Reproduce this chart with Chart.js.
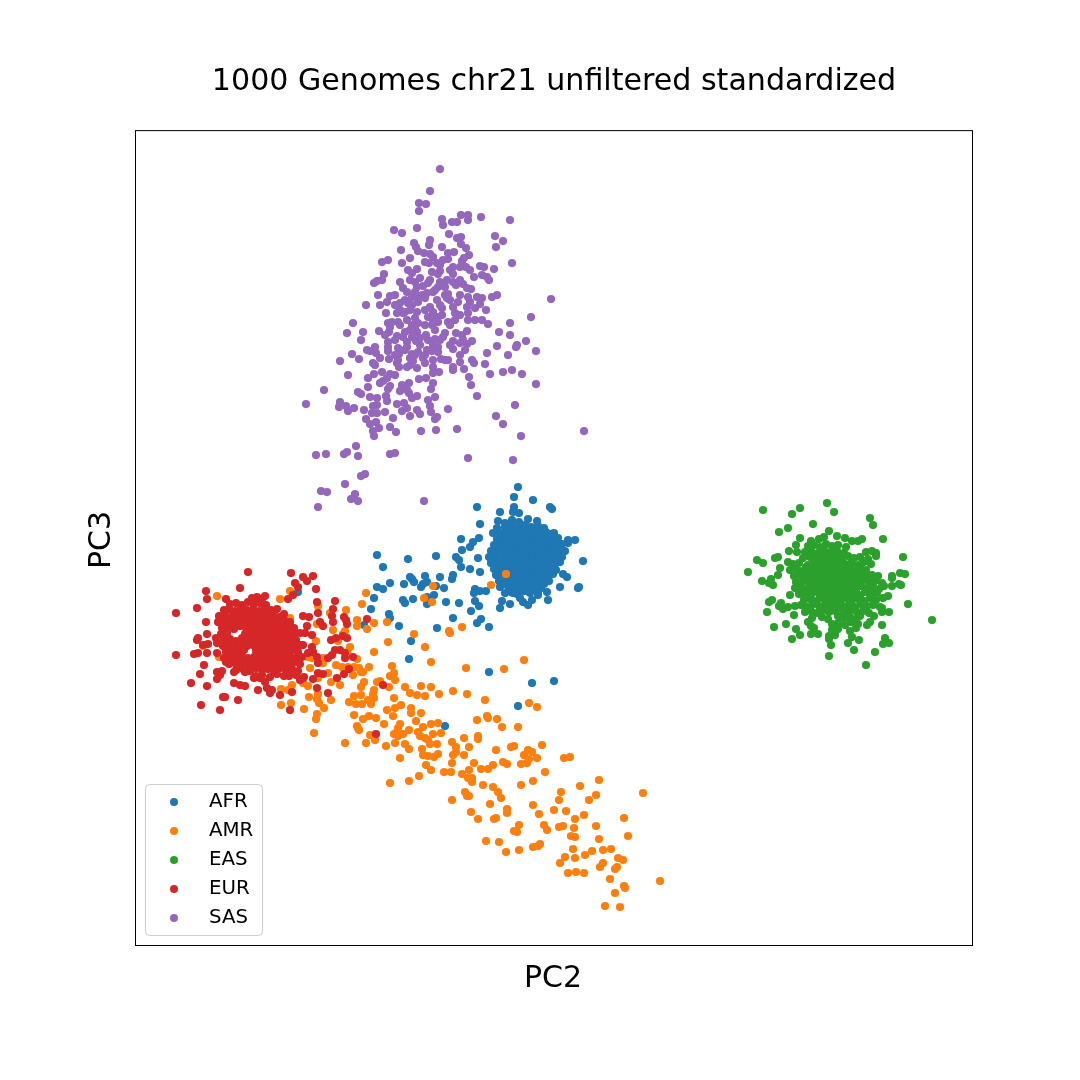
<!DOCTYPE html>
<html><head><meta charset="utf-8">
<script src="https://cdn.jsdelivr.net/npm/chart.js@4"></script>
<style>html,body{margin:0;padding:0;background:#fff}canvas{display:block}</style>
</head><body><canvas id="c" width="1080" height="1080"></canvas>
<script>
const titleText="1000 Genomes chr21 unfiltered standardized";
const xLabel="PC2", yLabel="PC3";
const seriesNames=["AFR","AMR","EAS","EUR","SAS"];
const seriesColors=["#1f77b4","#ff7f0e","#2ca02c","#d62728","#9467bd"];
const xRange=[136,972], yRange=[130,945];
// flat x,y value lists
const AFR=[518,487,514,497,533,500,477,507,550,507,552,509,500,512,514,507,513,512,519,513,498,521,480,524,493,533,497,528,505,523,554,533,479,538,461,539,473,542,470,547,462,550,575,540,568,540,568,543,377,555,408,559,436,556,456,557,459,560,478,558,583,561,383,567,461,567,470,569,480,572,440,577,453,575,452,579,425,576,410,577,412,579,414,582,427,582,423,584,421,587,404,584,390,583,377,587,383,589,436,586,444,588,434,595,427,597,374,598,403,600,405,603,413,599,427,604,446,602,459,603,475,589,474,593,480,591,486,591,475,601,479,606,471,611,371,609,389,614,390,618,364,625,399,626,453,618,437,628,481,619,477,623,489,627,411,641,409,659,489,672,532,683,554,681,518,706,445,726,298,592,560,587,578,588,579,587,547,592,548,600,538,595,528,605,532,600,520,598,523,602,510,604,500,608,502,601,513,593,563,574,567,577,
512,520,519,522,528,519,537,521,505,527,512,526,518,528,525,525,531,527,538,526,544,528,500,533,507,532,513,534,520,531,527,533,533,532,540,534,546,532,551,534,497,539,503,538,510,540,516,537,523,539,529,538,535,540,542,537,548,539,554,540,558,538,494,545,500,544,507,546,513,543,519,545,526,544,532,546,538,543,545,545,551,544,557,546,562,544,491,551,497,550,504,552,510,549,516,551,523,550,529,552,535,549,542,551,548,550,554,552,560,550,565,551,489,557,496,556,502,558,508,555,515,557,521,556,527,558,533,555,540,557,546,556,552,558,558,556,562,557,491,563,498,562,505,564,511,561,517,563,524,562,530,564,536,561,543,563,549,562,555,564,560,562,494,569,500,568,507,570,513,567,520,569,526,568,533,570,539,567,545,569,551,568,556,570,496,575,503,574,510,576,516,573,522,575,529,574,535,576,541,573,548,575,553,574,499,581,506,580,512,582,518,579,525,581,531,580,538,582,544,579,549,581,500,587,508,586,515,588,521,585,528,587,534,586,541,588,505,593,511,592,517,594,524,591,530,593,538,592,
510,530,516,530,523,530,530,530,536,530,543,530,507,536,513,536,520,536,526,536,532,536,539,536,545,536,551,536,500,542,506,542,513,542,519,542,526,542,532,542,539,542,545,542,551,542,557,542,497,548,503,548,510,548,516,548,522,548,529,548,535,548,541,548,548,548,554,548,560,548,494,554,500,554,507,554,513,554,519,554,526,554,532,554,538,554,545,554,551,554,557,554,494,560,501,560,508,560,514,560,520,560,527,560,533,560,539,560,546,560,552,560,557,560,497,566,503,566,510,566,516,566,523,566,529,566,535,566,542,566,548,566,554,566,500,572,506,572,513,572,519,572,525,572,532,572,538,572,544,572,550,572,502,578,509,578,515,578,521,578,528,578,534,578,541,578,547,578,505,584,512,584,518,584,525,584,531,584,537,584,544,584,510,590,516,590,522,590,528,590,535,590];
const AMR=[506,574,491,585,433,586,424,598,432,602,366,593,362,604,374,623,367,629,387,622,414,634,449,631,450,633,462,627,388,642,425,647,374,652,431,662,524,660,466,668,504,669,392,666,369,667,363,672,217,596,280,599,290,591,346,610,318,606,330,613,357,620,357,626,290,618,317,624,333,630,345,631,343,634,316,641,338,641,350,647,347,652,203,646,219,657,357,659,323,658,312,658,308,657,323,663,336,665,342,667,348,667,354,667,359,668,361,672,328,673,310,668,353,675,318,678,380,681,377,682,364,682,361,687,331,682,340,685,308,686,303,683,292,685,281,689,288,690,374,690,373,694,361,695,354,696,309,697,318,694,331,700,349,702,356,704,362,704,368,700,371,704,374,698,317,699,319,703,281,705,291,703,304,709,324,708,317,714,316,719,354,715,369,716,363,719,376,718,394,673,390,676,395,680,405,687,421,686,431,687,389,687,410,693,417,695,425,696,439,694,453,691,467,694,394,698,485,700,529,703,537,707,401,705,395,708,387,710,411,708,411,713,421,713,393,716,416,721,487,716,488,718,477,720,497,719,502,727,518,727,384,724,357,726,359,730,358,728,400,724,431,724,438,723,423,727,314,733,398,728,409,730,418,732,397,732,394,734,403,734,398,736,370,735,420,736,433,734,441,733,478,736,478,739,464,738,425,738,428,740,375,740,345,743,366,743,395,743,405,744,452,742,430,744,437,744,386,746,409,749,422,749,456,747,469,747,511,747,514,746,542,745,496,750,528,750,532,752,456,752,453,755,464,755,524,755,423,755,428,756,434,757,438,754,400,758,529,759,537,758,564,758,570,757,452,763,474,763,503,762,507,764,521,764,527,763,426,765,493,765,431,770,481,769,488,769,469,770,444,772,451,772,462,774,545,772,419,776,468,778,472,778,472,782,409,781,390,783,533,781,599,780,483,785,521,785,493,787,580,786,561,792,498,792,465,792,643,793,596,795,467,796,469,796,501,798,559,800,589,800,452,800,490,804,533,805,554,810,566,811,507,809,507,813,471,812,539,814,584,815,478,819,496,818,494,819,575,819,624,818,519,825,544,825,547,830,559,827,563,826,596,826,574,828,514,831,517,832,571,836,575,837,628,836,599,839,486,841,499,842,540,844,533,847,538,846,519,850,506,852,573,849,592,851,603,850,611,849,585,855,565,857,575,858,618,858,623,860,560,863,603,863,600,867,617,867,615,869,568,873,576,872,584,873,610,879,660,881,624,886,625,888,615,893,605,906,620,907];
const EAS=[827,503,763,510,800,508,792,514,834,512,870,518,873,525,788,528,779,532,813,524,829,531,883,539,800,538,796,545,852,541,858,541,862,539,845,538,837,536,824,537,819,539,811,541,903,557,757,560,763,563,775,558,778,557,789,551,797,552,788,562,780,568,748,572,778,575,771,579,762,581,769,583,773,585,900,573,905,574,892,576,892,578,899,584,892,586,901,585,878,576,908,604,932,620,790,595,772,600,769,602,767,612,781,603,779,606,783,609,788,607,794,615,786,624,774,627,796,629,800,635,792,639,808,622,811,626,814,628,818,634,811,634,829,639,831,645,829,656,848,643,854,650,859,640,866,665,875,652,883,644,885,638,889,643,882,625,870,622,867,625,874,616,889,612,882,612,882,608,888,596,883,598,884,586,
808,546,814,545,820,547,826,544,832,546,838,545,846,547,805,552,811,551,818,553,824,550,831,552,837,551,844,553,866,552,872,551,876,553,803,558,810,557,816,559,822,556,828,558,835,557,841,559,848,556,854,558,860,557,868,559,876,556,793,564,799,563,808,565,814,562,820,564,826,563,832,565,838,562,845,564,851,563,858,565,864,562,871,564,790,570,797,569,803,571,810,568,817,570,823,569,829,571,835,568,841,570,848,569,854,571,860,568,866,570,794,576,800,575,806,577,812,574,818,576,824,575,830,577,836,574,842,576,848,575,854,577,860,574,866,576,872,575,796,582,803,581,809,583,815,580,821,582,827,581,833,583,839,580,845,582,851,581,857,583,863,580,869,582,875,581,882,583,795,588,801,587,807,589,813,586,819,588,825,587,831,589,837,586,843,588,849,587,855,589,861,586,867,588,873,587,879,589,799,594,805,593,811,595,817,592,823,594,829,593,835,595,841,592,847,594,853,593,859,595,865,592,871,594,877,593,804,600,810,599,816,601,822,598,828,600,834,599,840,601,846,598,852,600,858,599,864,601,870,598,876,600,795,606,801,605,807,607,813,604,819,606,825,605,831,607,837,604,843,606,849,605,855,607,861,604,867,606,873,605,880,607,805,612,811,611,817,613,823,610,829,612,835,611,845,613,851,610,857,612,863,611,869,613,812,618,822,617,828,619,838,616,844,618,850,617,856,619,860,616,832,624,838,623,845,625,851,622,858,624,832,630,838,629,850,631,856,628,829,636,835,635,852,637,
806,567,812,567,818,567,826,567,835,567,842,567,850,567,810,573,816,573,822,573,828,573,834,573,840,573,846,573,852,573,806,579,812,579,818,579,824,579,830,579,836,579,842,579,848,579,854,579,860,579,812,585,818,585,824,585,830,585,836,585,842,585,848,585,854,585,860,585,814,591,820,591,826,591,832,591,838,591,844,591,850,591,856,591,820,597,826,597,832,597,838,597,844,597,850,597,860,597,814,603,826,603,832,603,838,603,850,603,826,609,832,609,842,609,848,609,814,555,826,555,838,555,820,561,832,561,842,561];
const EUR=[248,572,291,573,303,577,307,581,313,576,295,583,298,587,316,589,240,588,206,591,207,599,226,599,293,595,288,599,317,602,335,601,197,608,176,613,333,609,318,613,332,616,344,617,346,620,367,619,303,616,309,617,206,622,320,622,323,626,333,622,307,626,347,624,207,634,343,636,347,638,336,638,331,640,198,638,197,640,216,638,217,643,208,644,203,645,312,635,305,633,303,645,312,647,340,650,335,650,332,655,328,658,345,653,345,658,353,657,313,652,308,653,317,657,198,653,194,654,207,653,176,655,217,653,318,663,204,665,226,662,200,674,217,672,222,671,220,675,217,679,234,672,245,672,323,674,318,673,344,674,349,669,337,678,289,676,313,679,303,678,300,680,191,683,207,686,234,683,240,685,245,686,258,690,267,688,272,690,270,693,292,692,280,695,317,688,328,693,223,697,225,697,238,700,201,705,220,710,290,710,254,678,260,678,265,682,383,685,376,734,
252,598,257,597,262,599,265,596,230,604,236,603,242,605,248,602,254,604,260,603,266,605,224,610,229,609,235,611,241,608,247,610,253,609,259,611,265,608,271,610,277,609,219,616,225,615,231,617,237,614,243,616,249,615,255,617,261,614,267,616,273,615,279,617,284,614,218,622,224,621,230,623,236,620,242,622,248,621,254,623,260,620,266,622,272,621,278,623,284,620,290,622,222,628,228,627,234,629,240,626,246,628,252,627,258,629,264,626,270,628,276,627,282,629,288,626,294,628,221,634,227,633,245,634,251,633,257,635,263,632,269,634,275,633,281,635,287,632,293,634,300,633,224,640,230,639,236,641,242,638,248,640,254,639,260,641,266,638,272,640,278,639,284,641,290,638,296,640,223,646,229,645,235,647,241,644,247,646,253,645,259,647,265,644,271,646,277,645,283,647,289,644,296,646,301,645,226,652,232,651,238,653,244,650,256,651,262,653,268,650,274,652,280,651,286,653,292,650,298,652,224,658,230,657,236,659,242,656,248,658,254,657,260,659,266,656,272,658,278,657,284,659,290,656,296,658,302,657,229,664,235,663,241,665,247,662,253,664,259,663,265,665,271,662,277,664,283,663,289,665,295,662,300,664,236,670,243,669,250,671,256,668,262,670,268,669,274,671,280,668,286,670,292,669,298,671,256,676,262,675,270,677,277,674,284,676,296,675,304,677,
234,613,240,613,246,613,252,613,258,613,264,613,270,613,228,619,234,619,240,619,246,619,252,619,258,619,264,619,270,619,276,619,282,619,226,625,232,625,238,625,244,625,250,625,256,625,262,625,268,625,274,625,280,625,286,625,249,631,255,631,261,631,267,631,273,631,279,631,285,631,291,631,226,637,246,637,252,637,258,637,264,637,270,637,276,637,282,637,288,637,294,637,228,643,238,643,244,643,250,643,256,643,262,643,268,643,274,643,280,643,286,643,292,643,232,649,238,649,244,649,262,649,268,649,274,649,280,649,286,649,292,649,234,655,240,655,258,655,264,655,270,655,276,655,282,655,288,655,240,661,252,661,258,661,264,661,270,661,276,661,282,661,288,661,250,667,262,667,268,667,274,667,280,667,286,667];
const SAS=[440,169,430,191,419,203,426,204,419,211,442,219,443,225,452,222,457,222,461,215,468,215,468,220,481,217,510,220,394,230,402,233,417,228,449,234,457,238,461,237,495,236,503,241,496,247,461,244,466,248,430,240,429,245,414,243,416,247,418,251,401,250,442,247,454,252,448,253,424,253,430,254,433,257,469,255,464,258,410,258,388,260,382,262,402,263,429,263,437,263,443,260,448,259,462,261,512,263,480,266,484,267,494,269,466,267,460,267,453,267,450,270,440,271,432,272,417,269,408,270,412,273,438,274,453,274,482,275,487,277,474,277,489,280,384,274,382,280,377,281,374,283,400,282,410,280,415,282,447,280,453,282,456,285,463,284,428,283,423,286,403,288,407,292,417,287,445,287,467,288,471,289,438,287,448,294,433,292,427,293,422,295,417,297,412,297,378,295,390,296,387,302,468,297,477,297,482,298,497,295,492,297,551,299,447,298,458,302,437,300,418,302,408,303,400,303,395,305,366,305,380,305,480,304,475,308,486,310,467,307,453,307,442,308,430,307,433,312,417,312,410,310,403,313,397,313,386,313,455,313,460,315,468,313,468,320,437,317,428,317,407,320,398,322,418,323,448,322,482,320,488,324,531,317,510,323,353,323,388,323,390,327,415,328,433,320,438,322,347,333,363,332,379,331,389,332,405,332,417,332,426,335,445,333,456,333,467,331,462,335,499,332,510,335,397,336,403,337,412,337,443,337,435,339,361,340,388,342,407,342,416,341,453,341,463,340,472,341,526,341,517,345,467,344,460,343,375,347,388,347,398,348,407,347,433,345,438,347,453,349,497,346,516,347,367,350,370,351,388,351,427,350,432,351,438,352,487,353,536,351,352,354,376,353,399,354,412,354,418,352,460,355,508,355,359,359,380,358,389,359,398,360,410,358,413,361,423,358,433,360,441,359,448,360,472,360,340,361,373,363,397,363,425,363,460,362,474,363,485,364,399,367,407,367,417,368,433,367,453,367,464,369,453,370,382,372,433,373,439,372,512,370,503,372,490,374,522,374,348,375,374,374,390,374,368,378,387,378,383,381,380,383,419,379,426,378,469,377,433,383,409,383,471,385,536,384,368,387,390,386,388,389,324,390,358,392,361,394,400,391,407,390,409,393,431,389,417,396,386,396,370,397,377,398,387,401,412,398,428,400,435,397,477,396,340,402,306,404,339,407,346,406,348,411,354,408,364,410,373,406,377,405,397,404,404,403,407,408,402,411,430,406,448,409,515,405,417,410,420,414,431,412,372,413,377,413,385,412,410,416,437,417,435,419,366,419,393,418,376,422,496,416,370,424,379,428,390,427,503,424,396,432,373,431,374,436,421,431,436,430,457,429,584,431,521,436,356,446,316,455,326,454,344,454,347,452,358,456,390,454,395,453,468,458,513,460,361,476,365,474,345,484,321,491,327,492,355,494,351,499,358,501,424,501,318,507,
405,300,412,305,425,298,415,318,425,325,435,330,440,305,410,330,400,325,395,340,405,350,420,345,428,340,415,355,440,340,450,325,455,320,425,310,435,290,445,295,415,292,405,312,392,322,442,315,430,280,420,278,440,282,450,300,460,295,470,302,460,280,470,270,395,355,410,365,425,355,445,360,385,335,375,365,395,375,402,385,450,345,465,350,420,338,412,325,432,325,400,310,395,295,475,320,440,265,425,262];
const seriesValues=[AFR,AMR,EAS,EUR,SAS];

function toPoints(flat){const p=[];for(let i=0;i<flat.length;i+=2)p.push({x:flat[i],y:flat[i+1]});return p;}
const labelFont='30px "DejaVu Sans"';

const frameAndLegend={id:"frameAndLegend",afterDraw(chart){
  const c=chart.ctx,a=chart.chartArea;
  c.save();
  c.strokeStyle="#000";c.lineWidth=1;
  c.strokeRect(a.left-0.5,a.top+0.5,a.right-a.left+1,a.bottom-a.top);
  c.fillStyle="#000";c.font=labelFont;c.textAlign="center";c.textBaseline="middle";
  c.fillText(xLabel,553,979);
  c.save();c.translate(102,540);c.rotate(-Math.PI/2);c.fillText(yLabel,0,0);c.restore();
  const bx=a.left+10,by=a.bottom-160,bw=116,bh=150;
  c.beginPath();c.roundRect(bx-0.5,by-0.5,bw+1,bh+1,4);
  c.fillStyle="rgba(255,255,255,0.8)";c.fill();
  c.strokeStyle="#ccc";c.lineWidth=1;c.stroke();
  c.font='19.8px "DejaVu Sans"';c.textBaseline="middle";c.textAlign="left";
  seriesNames.forEach((n,i)=>{
    const y=by+17+i*29;
    c.fillStyle=seriesColors[i];
    c.beginPath();c.arc(bx+28,y,4,0,Math.PI*2);c.fill();
    c.fillStyle="#000";
    c.fillText(n,bx+63,y);
  });
  c.restore();
}};

new Chart(document.getElementById("c"),{
  type:"scatter",
  data:{datasets:seriesNames.map((n,i)=>({
    label:n,data:toPoints(seriesValues[i]),
    backgroundColor:seriesColors[i],borderColor:seriesColors[i],
    pointRadius:4.1,pointBorderWidth:0,order:seriesNames.length-i
  }))},
  options:{
    responsive:false,animation:false,devicePixelRatio:1,
    layout:{padding:{left:0,right:108,top:0,bottom:0}},
    plugins:{
      legend:{display:false},tooltip:{enabled:false},
      title:{display:true,text:titleText,fullSize:false,color:"#000",
        font:{family:"DejaVu Sans",size:30.1,weight:"normal",lineHeight:1.2},
        padding:{top:64,bottom:30}}
    },
    scales:{
      x:{type:"linear",min:xRange[0],max:xRange[1],
        ticks:{display:false},grid:{display:false,drawTicks:false},border:{display:false},
        afterFit(s){s.height=135;},title:{display:false}},
      y:{type:"linear",reverse:true,min:yRange[0],max:yRange[1],
        ticks:{display:false},grid:{display:false,drawTicks:false},border:{display:false},
        afterFit(s){s.width=136;},title:{display:false}}
    }
  },
  plugins:[frameAndLegend]
});
</script></body></html>
